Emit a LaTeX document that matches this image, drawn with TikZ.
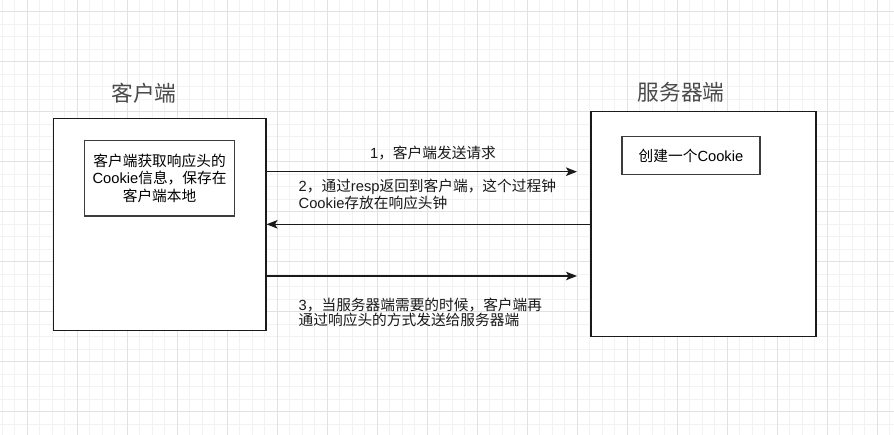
\documentclass[tikz,border=0pt]{standalone}
\usepackage{fontspec}
\setmainfont{Noto Sans CJK SC}
\newfontfamily\lat{Liberation Sans}
\usetikzlibrary{arrows.meta}
\definecolor{gridminor}{HTML}{F2F2F2}
\definecolor{gridmajor}{HTML}{E2E2E2}
\definecolor{boxline}{HTML}{1A1A1A}
\definecolor{titlegray}{HTML}{4A4A4A}
\tikzset{
  bigbox/.style={draw=boxline, line width=1.3pt, fill=white, minimum width=#1, minimum height=#1, inner sep=0pt, anchor=north west},
  smallbox/.style={draw=boxline!85!white, line width=1.4pt, fill=white, inner sep=0pt, anchor=north west, align=center, font=\fontsize{14.7}{17.3}\selectfont},
  titletext/.style={text=titlegray, font=\fontsize{21.7}{24}\selectfont, inner sep=0pt},
  labeltext/.style={font=\fontsize{14.7}{15.5}\selectfont, inner sep=0pt, align=left, text=black!90},
  msg/.style={draw=boxline, line width=1.2pt, -{Stealth[length=11pt,width=8.5pt,inset=2.5pt]}}
}
\begin{document}
\begin{tikzpicture}[x=1pt,y=-1pt]
\useasboundingbox (0,0) rectangle (894,435);
\begin{scope}
\clip (0,0) rectangle (894,435);
\fill[white] (0,0) rectangle (894,435);
\foreach \i in {0,...,72} \draw[gridminor, line width=0.9pt] ({2.3+12.5*\i},0) -- ({2.3+12.5*\i},435);
\foreach \i in {-1,...,34} \draw[gridminor, line width=0.9pt] (0,{11.7+12.5*\i}) -- (894,{11.7+12.5*\i});
\foreach \i in {0,...,17} \draw[gridmajor, line width=0.9pt] ({27.3+50*\i},0) -- ({27.3+50*\i},435);
\foreach \i in {0,...,8} \draw[gridmajor, line width=0.9pt] (0,{11.7+50*\i}) -- (894,{11.7+50*\i});
\end{scope}

% titles
\node[titletext] (clienttitle) at (144,93) {客户端};
\node[titletext] (servertitle) at (681,92) {服务器端};

% big boxes
\node[bigbox=212.5pt] (client) at (52.7,117.7) {};
\node[bigbox=225pt] (server) at (590.3,111) {};

% inner boxes
\node[smallbox, minimum width=150.3pt, minimum height=75.3pt] (cinner) at (83.7,140) {客户端获取响应头的\\{\lat Cookie}信息，保存在\\客户端本地};
\node[smallbox, minimum width=138pt, minimum height=38pt] (sinner) at (621.3,136) {创建一个{\lat Cookie}};

% arrow end points
\coordinate (a1end) at (577,171.7);
\coordinate (a2y) at (400,224.3);
\coordinate (a3end) at (577,276);

\draw[msg] (client.east |- a1end) -- (a1end);
\draw[msg] (server.west |- a2y) -- (client.east |- a2y);
\draw[msg] (client.east |- a3end) -- (a3end);

% labels
\node[labeltext] (lab1) at (433,152.7) {{\lat 1}，客户端发送请求};
\node[labeltext, anchor=west] (lab2) at (298.5,194.2) {{\lat 2}，通过{\lat resp}返回到客户端，这个过程钟\\{\lat Cookie}存放在响应头钟};
\node[labeltext, anchor=west] (lab3) at (298.5,312.2) {{\lat 3}，当服务器端需要的时候，客户端再\\通过响应头的方式发送给服务器端};
\end{tikzpicture}
\end{document}
